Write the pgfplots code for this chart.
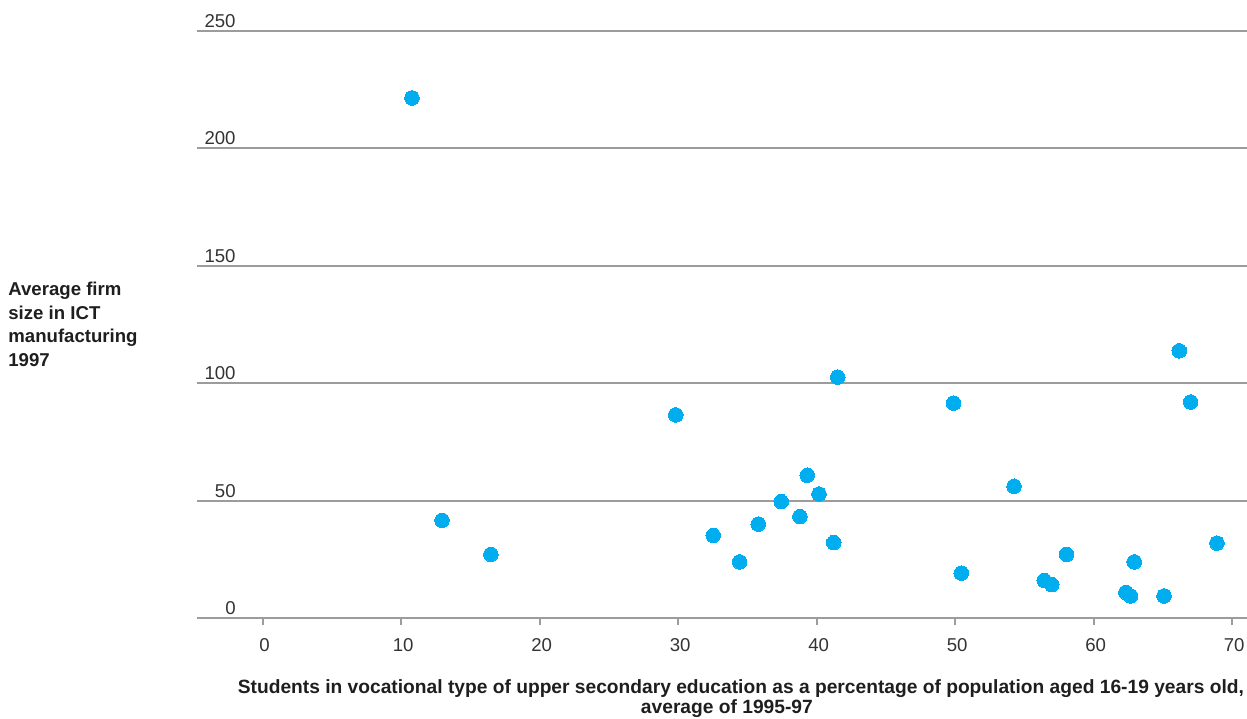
\documentclass[border=0pt]{standalone}
\usepackage{pgfplots}
\pgfplotsset{compat=1.18}
\usepackage{fontspec}
\setmainfont{Liberation Sans}
\definecolor{dotblue}{HTML}{00AEEF}
\definecolor{gridgray}{HTML}{9C9C9C}
\definecolor{ticktext}{HTML}{333333}
\definecolor{labeltext}{HTML}{1E1E1E}
\begin{document}
\begin{tikzpicture}
\useasboundingbox (-98.5pt,-50pt) rectangle (525pt,309pt);
\begin{axis}[
  scale only axis, width=525pt, height=293.5pt,
  xmin=-4.74, xmax=71.07, ymin=0, ymax=250,
  xtick={0,10,...,70}, ytick={0,50,...,250},
  axis line style={draw=none},
  ymajorgrids, grid style={gridgray, line width=0.95pt},
  extra y ticks={0}, extra y tick labels={},
  extra y tick style={grid style={gridgray, line width=1.3pt}},
  tick pos=left, tick align=outside, major tick length=3.5pt,
  ytick style={draw=none},
  xtick style={gridgray, line width=1pt},
  /pgf/number format/assume math mode=true,
  ticklabel style={font=\fontsize{9.3}{11}\selectfont, text=ticktext},
  yticklabel style={anchor=base east, inner sep=0pt, xshift=23pt, yshift=1.7pt},
  xticklabel style={anchor=north, inner sep=0pt, yshift=-6.7pt, xshift=1pt},
  every axis x label/.style={at={(axis description cs:0.518,0)}, anchor=north, yshift=-30.5pt,
     align=center, inner sep=0pt, font=\fontsize{9.6}{10.3}\selectfont\bfseries, text=labeltext},
  every axis y label/.style={at={(axis description cs:-0.18,0.5724)}, anchor=north west,
     align=left, inner sep=0pt, font=\fontsize{9.3}{11.75}\selectfont\bfseries, text=labeltext},
  xlabel={Students in vocational type of upper secondary education as a percentage of population aged 16-19 years old,\\average of 1995-97\hspace*{14pt}},
  ylabel={Average firm\\size in ICT\\manufacturing\\1997},
]
\addplot[only marks, mark=*, mark size=3.65pt, color=dotblue, mark options={fill=dotblue, draw=dotblue, line width=0pt}]
coordinates {
(10.78,221.5)
(12.95,41.6)
(16.48,27.1)
(29.83,86.5)
(32.53,35.2)
(34.44,23.9)
(35.78,40.0)
(37.44,49.6)
(38.79,43.2)
(39.32,60.8)
(40.17,52.8)
(41.23,32.1)
(41.52,102.6)
(49.89,91.5)
(50.44,19.1)
(54.25,56.1)
(56.43,16.0)
(56.97,14.2)
(58.04,27.1)
(62.33,10.9)
(62.67,9.4)
(62.93,23.9)
(65.08,9.4)
(66.18,113.8)
(67.00,92.0)
(68.90,31.9)
};
\end{axis}
\end{tikzpicture}
\end{document}
